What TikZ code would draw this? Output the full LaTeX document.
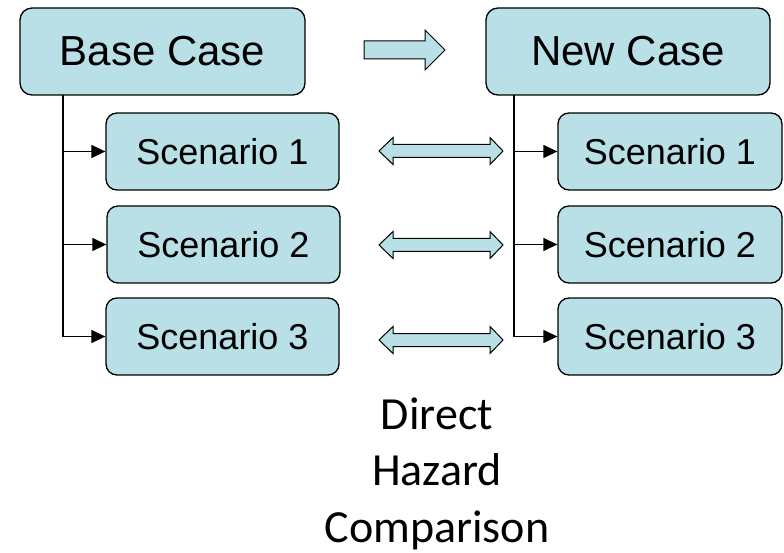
\documentclass[tikz,border=0pt]{standalone}
\usepackage{fontspec}
\setmainfont{Liberation Sans}
\newfontfamily\calfont{Carlito}
\usetikzlibrary{arrows.meta}
\definecolor{boxfill}{RGB}{185,224,230}
\tikzset{
  casebox/.style={draw=black, line width=1.3pt, fill=boxfill, rounded corners=12pt, minimum height=87pt, inner sep=0pt, font=\fontsize{42}{50}\selectfont},
  scenbox/.style={draw=black, line width=1.3pt, fill=boxfill, rounded corners=11pt, minimum height=77pt, inner sep=0pt, font=\fontsize{36}{43}\selectfont},
  tree/.style={line width=1.3pt},
  treearrow/.style={line width=1.3pt, -{Triangle[length=14pt,width=13pt]}},
  blockarrow/.style={draw=black, line width=1pt, fill=boxfill, line join=miter},
}
\begin{document}
\begin{tikzpicture}[x=1pt,y=-1pt]
\useasboundingbox (0,0) rectangle (784,553);
% main boxes
\node[casebox, minimum width=285pt] (base) at (162.5,51.5) {Base Case};
\node[casebox, minimum width=284pt] (new) at (628,51.5) {New Case};
% scenarios
\node[scenbox, minimum width=233pt] (bs1) at (222.5,151.5) {Scenario 1};
\node[scenbox, minimum width=233pt] (bs2) at (223.5,244.5) {Scenario 2};
\node[scenbox, minimum width=233pt] (bs3) at (222.5,336.5) {Scenario 3};
\node[scenbox, minimum width=224pt] (ns1) at (670,151.5) {Scenario 1};
\node[scenbox, minimum width=224pt] (ns2) at (670,244.5) {Scenario 2};
\node[scenbox, minimum width=224pt] (ns3) at (670,336.5) {Scenario 3};
% tree lines
\coordinate (lt) at (63,95);
\coordinate (rt) at (514,95);
\draw[tree] (lt) -- (lt |- bs3.west);
\draw[treearrow] (lt |- bs1.west) -- (bs1.west);
\draw[treearrow] (lt |- bs2.west) -- (bs2.west);
\draw[treearrow] (lt |- bs3.west) -- (bs3.west);
\draw[tree] (rt) -- (rt |- ns3.west);
\draw[treearrow] (rt |- ns1.west) -- (ns1.west);
\draw[treearrow] (rt |- ns2.west) -- (ns2.west);
\draw[treearrow] (rt |- ns3.west) -- (ns3.west);
% single block arrow
\draw[blockarrow] (364,41) -- (425,41) -- (425,30) -- (445,50) -- (425,70) -- (425,59) -- (364,59) -- cycle;
% double block arrows
\foreach \yy in {151,245,340}{
  \draw[blockarrow] (379,\yy) -- (393,\yy-13.5) -- (393,\yy-6.5) -- (490,\yy-6.5) -- (490,\yy-13.5) -- (503,\yy) -- (490,\yy+13.5) -- (490,\yy+6.5) -- (393,\yy+6.5) -- (393,\yy+13.5) -- cycle;
}
% caption
\node[font=\calfont\fontsize{46}{56.5}\selectfont, align=center, inner sep=0pt, anchor=north] (cap) at (437,397.5) {Direct\\Hazard\\Comparison};
\end{tikzpicture}
\end{document}
